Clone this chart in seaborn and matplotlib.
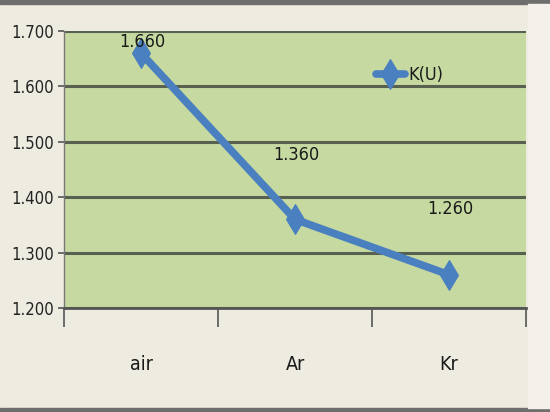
import matplotlib
matplotlib.use("Agg")
import matplotlib.pyplot as plt
import seaborn as sns
import pandas as pd
from matplotlib.patches import Rectangle

# data
gases = ["air", "Ar", "Kr"]
k_u = [1.660, 1.360, 1.260]
label_text = ["1.660", "1.360", "1.260"]
yticks = [1.2, 1.3, 1.4, 1.5, 1.6, 1.7]

df = pd.DataFrame({"gas": gases, "K(U)": k_u})

sns.set_theme(style="white")
plt.rcParams["font.family"] = ["DejaVu Sans"]
plt.rcParams["font.stretch"] = "condensed"

fig = plt.figure(figsize=(5.5, 4.12), dpi=100)
fig.patch.set_facecolor("#eeebe1")
ax = fig.add_axes([64 / 550, 1 - 308 / 412, 462 / 550, 277 / 412])
ax.set_facecolor("#c5d9a1")

blue = "#4a7fc0"
sns.lineplot(data=df, x="gas", y="K(U)", ax=ax, color=blue, lw=5.5,
             marker="d", markersize=15, markeredgecolor=blue,
             label="K(U)", sort=False)

ax.set_xlim(-0.5, 2.5)
ax.set_ylim(1.2, 1.7)
ax.set_yticks(yticks)
ax.set_yticklabels([f"{v:.3f}" for v in yticks])
ax.yaxis.grid(True, color="#58604f", lw=2.2)
ax.set_axisbelow(True)
ax.set_xlabel("")
ax.set_ylabel("")

# category boundary ticks on x
ax.set_xticks([0, 1, 2])
ax.set_xticks([-0.5, 0.5, 1.5, 2.5], minor=True)
ax.tick_params(axis="x", which="both", bottom=True)
ax.tick_params(axis="x", which="major", length=0, pad=34, labelsize=14,
               labelcolor="#1a1a1a")
ax.tick_params(axis="x", which="minor", length=14, width=1.2,
               color="#555555", direction="out")
ax.tick_params(axis="y", left=True, length=4, width=1.2, color="#555555",
               labelsize=12, labelcolor="#222222", pad=3)

for side in ["top", "right"]:
    ax.spines[side].set_visible(False)
ax.spines["left"].set_color("#777777")
ax.spines["left"].set_linewidth(1)
ax.spines["bottom"].set_color("#555555")
ax.spines["bottom"].set_linewidth(2)

# data labels
offsets = [8, 46, 47]
for i, (v, t) in enumerate(zip(k_u, label_text)):
    ax.annotate(t, (i, v), xytext=(1, offsets[i]), textcoords="offset points",
                ha="center", va="center", fontsize=13, color="#1a1a1a")

leg = ax.legend(loc="center left", bbox_to_anchor=(0.64, 0.84), frameon=False,
                fontsize=13, handlelength=1.6, handletextpad=0.2)
for t in leg.get_texts():
    t.set_color("#1a1a1a")

# screen-capture frame bits
fig.add_artist(Rectangle((0, 1 - 4 / 412), 1, 4 / 412, transform=fig.transFigure,
                         color="#6e6e6e", zorder=0))
fig.add_artist(Rectangle((0, 0), 1, 4 / 412, transform=fig.transFigure,
                         color="#6e6e6e", zorder=0))
fig.add_artist(Rectangle((528 / 550, 4 / 412), 22 / 550, 404 / 412,
                         transform=fig.transFigure, color="#f3f1ea", zorder=0))

fig.savefig("out.png", dpi=100, facecolor=fig.get_facecolor())
